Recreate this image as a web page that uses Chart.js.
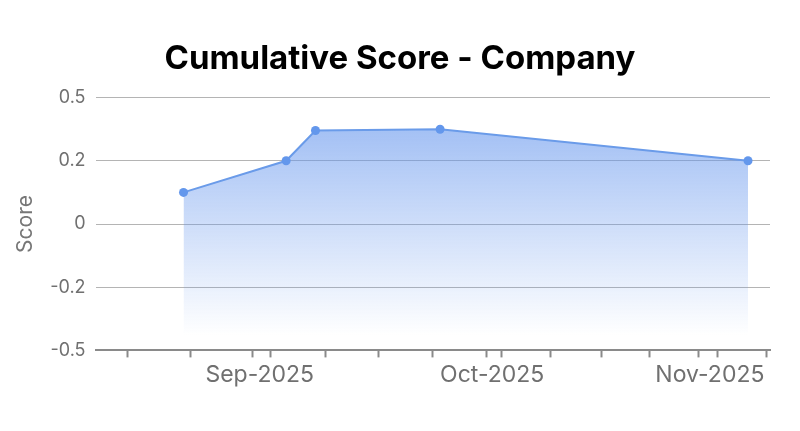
<!doctype html>
<html>
<head>
    <meta charset="utf-8">
    <script src="https://cdn.jsdelivr.net/npm/chart.js"></script>
    <style>
        html, body { margin: 0; padding: 0; background: #fff; }
        #wrap { width: 800px; height: 431px; }
    </style>
</head>
<body>
    <div id="wrap"><canvas id="scoreChart"></canvas></div>
    <script>
        // days counted from 1 Aug 2025 (day 0)
        const pointDays = [20, 34, 38, 55, 97];
        const scores = [0.125, 0.25, 0.37, 0.375, 0.25];

        // small tick marks along the bottom axis
        const tickMarkDays = [12.3, 20.9, 29.4, 31.9, 39.3, 46.6, 54.0, 61.3, 63.4, 70.1, 77.0, 83.6, 90.3, 92.8, 99.5];
        // month labels
        const monthDays = [30.4, 62.1, 91.8];
        const monthLabels = ['Sep-2025', 'Oct-2025', 'Nov-2025'];

        const yTickValues = [-0.5, -0.25, 0, 0.25, 0.5];
        const yTickLabels = ['-0.5', '-0.2', '0', '0.2', '0.5'];

        const FONT = 'Inter';

        function fillGradient(context) {
            const area = context.chart.chartArea;
            if (!area) return 'rgba(100,149,237,0.5)';
            const g = context.chart.ctx.createLinearGradient(0, area.top, 0, area.bottom - 15);
            g.addColorStop(0, 'rgba(100,149,237,0.68)');
            g.addColorStop(1, 'rgba(100,149,237,0)');
            return g;
        }

        const ctx = document.getElementById('scoreChart').getContext('2d');
        const scoreChart = new Chart(ctx, {
            type: 'line',
            data: {
                datasets: [{
                    label: 'Score',
                    data: pointDays.map((d, i) => ({ x: d, y: scores[i] })),
                    borderColor: '#6a9be9',
                    borderWidth: 2,
                    backgroundColor: fillGradient,
                    fill: 'start',
                    tension: 0,
                    pointRadius: 4.5,
                    pointBackgroundColor: '#6397ec',
                    pointBorderWidth: 0
                }]
            },
            options: {
                responsive: true,
                maintainAspectRatio: false,
                animation: false,
                layout: { padding: { left: 13, right: 13, top: 0, bottom: 38 } },
                plugins: {
                    legend: { display: false },
                    tooltip: { enabled: false },
                    title: {
                        display: true,
                        text: 'Cumulative Score - Company',
                        color: '#000',
                        font: { family: FONT, size: 33, weight: 'bold' },
                        padding: { top: 39, bottom: 19 }
                    }
                },
                scales: {
                    x: {
                        type: 'linear',
                        min: 8,
                        max: 100,
                        afterBuildTicks: (axis) => {
                            const vals = tickMarkDays.concat(monthDays).sort((a, b) => a - b);
                            axis.ticks = vals.map(v => ({ value: v }));
                        },
                        ticks: {
                            autoSkip: false,
                            maxRotation: 0,
                            padding: 4,
                            color: '#707070',
                            font: { family: FONT, size: 23 },
                            callback: (value) => {
                                const i = monthDays.indexOf(value);
                                return i >= 0 ? monthLabels[i] : '';
                            }
                        },
                        grid: {
                            drawOnChartArea: false,
                            drawTicks: true,
                            tickLength: 7,
                            tickWidth: 2,
                            tickColor: (c) => (c.tick && monthDays.includes(c.tick.value)) ? 'rgba(0,0,0,0)' : '#8a8a8a'
                        },
                        border: { color: '#8a8a8a', width: 2 }
                    },
                    y: {
                        min: -0.5,
                        max: 0.5,
                        afterBuildTicks: (axis) => {
                            axis.ticks = yTickValues.map(v => ({ value: v }));
                        },
                        ticks: {
                            padding: 10,
                            color: '#707070',
                            font: { family: FONT, size: 18 },
                            callback: (value) => {
                                const i = yTickValues.indexOf(value);
                                return i >= 0 ? yTickLabels[i] : '';
                            }
                        },
                        grid: {
                            color: '#b4b4b4',
                            lineWidth: 1,
                            drawTicks: false
                        },
                        border: { display: false },
                        title: {
                            display: true,
                            text: 'Score',
                            color: '#777',
                            font: { family: FONT, size: 21 },
                            padding: { top: 0, bottom: 2 }
                        }
                    },
                    // empty right-hand gutter so the title sits centred on the page
                    gutter: {
                        position: 'right',
                        display: true,
                        grid: { display: false },
                        border: { display: false },
                        ticks: { display: false },
                        afterFit: (scale) => { scale.width = 17; }
                    }
                }
            }
        });
    </script>
</body>
</html>
